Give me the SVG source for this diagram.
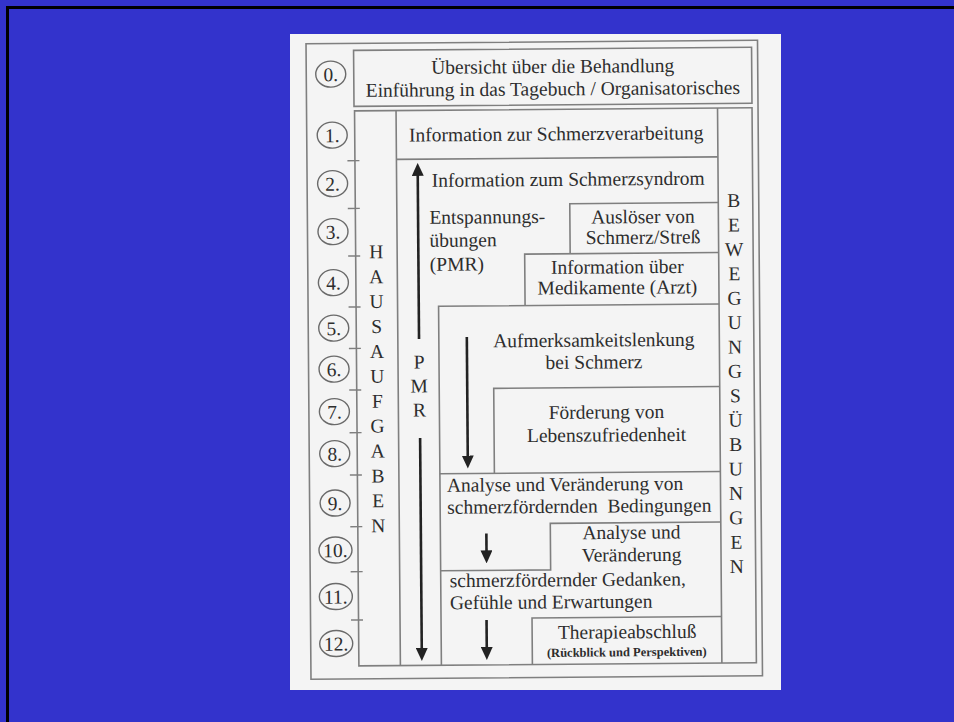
<svg xmlns="http://www.w3.org/2000/svg" width="954" height="722" viewBox="0 0 954 722">
<style>
.fr{fill:none;stroke:#7f7f7f;stroke-width:1.6}
.tk{stroke:#7f7f7f;stroke-width:1.4}
.t{font-family:"Liberation Serif","Times New Roman",serif;font-size:19.5px;fill:#2d2d2d}
.c{text-anchor:middle}
.b{font-weight:bold;font-size:12.5px}
.ci{fill:none;stroke:#6a6a6a;stroke-width:1.4}
.ar{fill:none;stroke:#222;stroke-width:2.6;marker-end:url(#ah)}
</style>
<defs>
<marker id="ah" viewBox="0 0 13 12" refX="5" refY="6" markerWidth="13" markerHeight="12" markerUnits="userSpaceOnUse" orient="auto"><path d="M0,0 L13,6 L0,12 z" fill="#222"/></marker>
</defs>
<rect x="0" y="0" width="954" height="722" fill="#3333cc"/>
<rect x="7.5" y="7.5" width="980" height="760" fill="none" stroke="#000" stroke-width="3"/>
<rect x="290" y="34" width="491" height="656" fill="#f4f4f4"/>
<g transform="rotate(-0.45 535 360)">
<g id="frame">
<rect class="fr" x="308.5" y="42" width="451.5" height="635.5"/>
<rect class="fr" x="356.5" y="109.5" width="397.5" height="555"/>
<path class="fr" d="M398,109.5 V664.5 M719.5,109.5 V664.5"/>
<path class="tk" d="M349,159.3 H361 M349,207 H361 M349,254.6 H361 M349,305.6 H361 M349,347 H361 M349,388.6 H361 M349,431.3 H361 M349,473.6 H361 M349,525.3 H361 M349,570.3 H361 M349,618.6 H361"/>
</g>
<g id="s0"><ellipse class="ci" cx="333" cy="72.5" rx="15" ry="13"/><text class="t c" x="333" y="79.5">0.</text></g>
<g id="s1"><ellipse class="ci" cx="334" cy="133.5" rx="15" ry="13"/><text class="t c" x="334" y="140.5">1.</text></g>
<g id="s2"><ellipse class="ci" cx="334" cy="182" rx="15" ry="13"/><text class="t c" x="334" y="189">2.</text></g>
<g id="s3"><ellipse class="ci" cx="334" cy="230" rx="15" ry="13"/><text class="t c" x="334" y="237">3.</text></g>
<g id="s4"><ellipse class="ci" cx="334" cy="281" rx="15" ry="13"/><text class="t c" x="334" y="288">4.</text></g>
<g id="s5"><ellipse class="ci" cx="334" cy="326.5" rx="15" ry="13"/><text class="t c" x="334" y="333.5">5.</text></g>
<g id="s6"><ellipse class="ci" cx="334" cy="367.5" rx="15" ry="13"/><text class="t c" x="334" y="374.5">6.</text></g>
<g id="s7"><ellipse class="ci" cx="334" cy="410" rx="15" ry="13"/><text class="t c" x="334" y="417">7.</text></g>
<g id="s8"><ellipse class="ci" cx="334" cy="452" rx="15" ry="13"/><text class="t c" x="334" y="459">8.</text></g>
<g id="s9"><ellipse class="ci" cx="334" cy="501.5" rx="15" ry="13"/><text class="t c" x="334" y="508.5">9.</text></g>
<g id="s10"><ellipse class="ci" cx="334" cy="548.5" rx="16.5" ry="13"/><text class="t c" x="334" y="555.5">10.</text></g>
<g id="s11"><ellipse class="ci" cx="334" cy="595" rx="16.5" ry="13"/><text class="t c" x="334" y="602">11.</text></g>
<g id="s12"><ellipse class="ci" cx="334" cy="642" rx="16.5" ry="13"/><text class="t c" x="334" y="649">12.</text></g>
<g id="uebersicht"><rect class="fr" x="356" y="49" width="398" height="56"/>
<text class="t c" x="555" y="73">Übersicht über die Behandlung</text>
<text class="t c" x="555" y="95.5">Einführung in das Tagebuch / Organisatorisches</text></g>
<g id="hausaufgaben" class="t c">
<text x="377" y="257">H</text><text x="377" y="281.9">A</text><text x="377" y="306.8">U</text><text x="377" y="331.7">S</text><text x="377" y="356.6">A</text><text x="377" y="381.5">U</text><text x="377" y="406.4">F</text><text x="377" y="431.3">G</text><text x="377" y="456.2">A</text><text x="377" y="481.1">B</text><text x="377" y="506">E</text><text x="377" y="530.9">N</text>
</g>
<g id="bewegung" class="t c">
<text x="735" y="208.6">B</text><text x="735" y="233">E</text><text x="735" y="257.4">W</text><text x="735" y="281.8">E</text><text x="735" y="306.2">G</text><text x="735" y="330.6">U</text><text x="735" y="355">N</text><text x="735" y="379.4">G</text><text x="735" y="403.8">S</text><text x="735" y="428.2">Ü</text><text x="735" y="452.6">B</text><text x="735" y="477">U</text><text x="735" y="501.4">N</text><text x="735" y="525.8">G</text><text x="735" y="550.2">E</text><text x="735" y="574.6">N</text>
</g>
<g id="pmr" class="t c"><text x="419" y="367.5">P</text><text x="419" y="391.5">M</text><text x="419" y="415.5">R</text></g>
<g id="info1"><text class="t c" x="558" y="140.5">Information zur Schmerzverarbeitung</text></g>
<g id="info2"><path class="fr" d="M398,158.3 H719.5"/><text class="t c" x="569.5" y="186">Information zum Schmerzsyndrom</text></g>
<g id="entspannung"><text class="t" x="430.5" y="223">Entspannungs-</text><text class="t" x="430.5" y="246">übungen</text><text class="t" x="430.5" y="270">(PMR)</text></g>
<g id="ausloeser"><path class="fr" d="M571,254 V204 H719.5"/><text class="t c" x="644" y="224">Auslöser von</text><text class="t c" x="644" y="244.5">Schmerz/Streß</text></g>
<g id="medikamente"><path class="fr" d="M525.5,305.5 V254 H719.5"/><text class="t c" x="618" y="274">Information über</text><text class="t c" x="618" y="294.5">Medikamente (Arzt)</text></g>
<g id="aufmerksamkeit"><path class="fr" d="M439,664.5 V305.5 H719.5"/><text class="t c" x="594" y="347">Aufmerksamkeitslenkung</text><text class="t c" x="594" y="369">bei Schmerz</text></g>
<g id="foerderung"><path class="fr" d="M493.5,473 V388 H719.5"/><text class="t c" x="606" y="419">Förderung von</text><text class="t c" x="606" y="442">Lebenszufriedenheit</text></g>
<g id="bedingungen"><path class="fr" d="M439,473 H719.5"/><text class="t" x="446" y="491">Analyse und Veränderung von</text><text class="t" x="446" y="513" style="white-space:pre">schmerzfördernden  Bedingungen</text></g>
<g id="gedanken"><path class="fr" d="M439,570 H549 V523.5 H719.5"/><text class="t c" x="630" y="539.5">Analyse und</text><text class="t c" x="630" y="562">Veränderung</text><text class="t" x="448" y="586.5">schmerzfördernder Gedanken,</text><text class="t" x="448" y="608.5">Gefühle und Erwartungen</text></g>
<g id="abschluss"><path class="fr" d="M530,664.5 V618 H719.5"/><text class="t c" x="625" y="639">Therapieabschluß</text><text class="t c b" x="624.5" y="657">(Rückblick und Perspektiven)</text></g>
<g id="connectors">
<line class="ar" x1="419.2" y1="338" x2="419.2" y2="170"/>
<line class="ar" x1="419.5" y1="437" x2="419.5" y2="652"/>
<line class="ar" x1="467" y1="336.5" x2="467" y2="460"/>
<line class="ar" x1="485" y1="533" x2="485" y2="555"/>
<line class="ar" x1="484.5" y1="619.5" x2="484.5" y2="651.5"/>
</g>
</g>
</svg>
